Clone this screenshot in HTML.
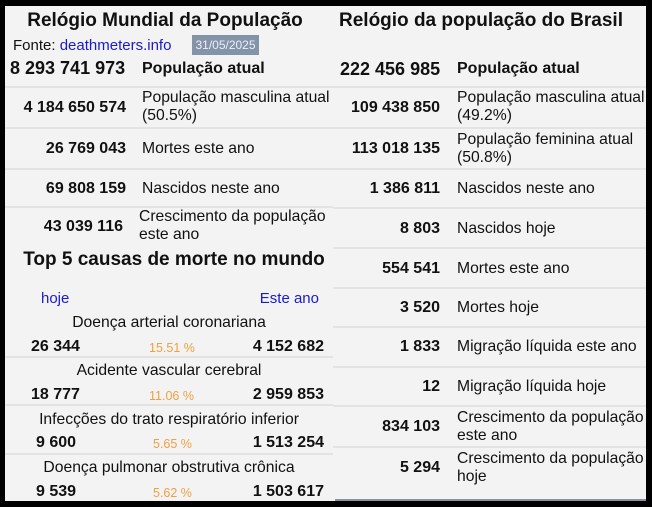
<!DOCTYPE html>
<html><head><meta charset="utf-8"><style>
*{margin:0;padding:0;box-sizing:border-box}
body{width:652px;height:507px;background:#000;position:relative;overflow:hidden;font-family:"Liberation Sans",Arial,sans-serif;color:#111}
.p{position:absolute;background:#f3f3f3}
.t{position:absolute;white-space:nowrap;font-size:15.7px;line-height:18px}
.b{font-weight:bold;font-size:16px}
.r{text-align:right}
.c{text-align:center}
.s{position:absolute;height:2px;background:#e3e3e3}
.bl{color:#1a1acc}
.or{color:#f0a040;font-size:12.5px}
</style></head><body>
<div class="p" style="left:5px;top:6px;width:328px;height:495px"></div>
<div class="p" style="left:333px;top:6px;width:313px;height:495px"></div>
<div style="position:absolute;left:335px;top:499px;width:311px;height:2px;background:#8a93a0"></div>

<!-- left -->
<div class="t b c" style="left:0px;top:11px;width:330px;font-size:19px;line-height:20px">Relógio Mundial da População</div>
<div class="t" style="left:13px;top:37px;font-size:15px">Fonte: <span class="bl">deathmeters.info</span></div>
<div style="position:absolute;left:192px;top:35px;width:67px;height:20px;background:#8393a8;color:#eef;font-size:12px;line-height:20px;text-align:center">31/05/2025</div>
<div class="t b" style="left:10px;top:58px;font-size:18px;line-height:20px">8 293 741 973</div>
<div class="t b" style="left:142px;top:60px">População atual</div>
<div class="s" style="left:5px;top:86px;width:328px"></div>
<div class="t b r" style="left:5px;top:99px;width:121px">4 184 650 574</div>
<div class="t" style="left:142px;top:89px;line-height:18px">População masculina atual<br>(50.5%)</div>
<div class="s" style="left:5px;top:127px;width:328px"></div>
<div class="t b r" style="left:5px;top:140px;width:121px">26 769 043</div>
<div class="t" style="left:142px;top:140px">Mortes este ano</div>
<div class="s" style="left:5px;top:168px;width:328px"></div>
<div class="t b r" style="left:5px;top:180px;width:121px">69 808 159</div>
<div class="t" style="left:142px;top:180px">Nascidos neste ano</div>
<div class="s" style="left:5px;top:206px;width:328px"></div>
<div class="t b r" style="left:5px;top:218px;width:118px">43 039 116</div>
<div class="t" style="left:139px;top:208px;line-height:18px">Crescimento da população<br>este ano</div>
<div class="t b c" style="left:5px;top:250px;width:338px;font-size:19px;line-height:20px">Top 5 causas de morte no mundo</div>
<div class="t bl" style="left:41px;top:290px;font-size:15px">hoje</div>
<div class="t bl r" style="left:200px;top:290px;width:119px;font-size:15px">Este ano</div>
<div class="t c" style="left:5px;top:314px;width:328px">Doença arterial coronariana</div>
<div class="t b" style="left:31px;top:338px">26 344</div>
<div class="t or" style="left:149px;top:339px">15.51 %</div>
<div class="t b r" style="left:200px;top:338px;width:124px">4 152 682</div>
<div class="s" style="left:5px;top:356px;width:328px"></div>
<div class="t c" style="left:5px;top:362px;width:328px">Acidente vascular cerebral</div>
<div class="t b" style="left:31px;top:386px">18 777</div>
<div class="t or" style="left:149px;top:387px">11.06 %</div>
<div class="t b r" style="left:200px;top:386px;width:124px">2 959 853</div>
<div class="s" style="left:5px;top:404px;width:328px"></div>
<div class="t c" style="left:5px;top:411px;width:328px">Infecções do trato respiratório inferior</div>
<div class="t b" style="left:36px;top:434px">9 600</div>
<div class="t or" style="left:153px;top:435px">5.65 %</div>
<div class="t b r" style="left:200px;top:434px;width:124px">1 513 254</div>
<div class="s" style="left:5px;top:453px;width:328px"></div>
<div class="t c" style="left:5px;top:459px;width:328px">Doença pulmonar obstrutiva crônica</div>
<div class="t b" style="left:36px;top:483px">9 539</div>
<div class="t or" style="left:153px;top:484px">5.62 %</div>
<div class="t b r" style="left:200px;top:483px;width:124px">1 503 617</div>

<!-- right -->
<div class="t b" style="left:339px;top:11px;font-size:19px;line-height:20px">Relógio da população do Brasil</div>
<div class="t b" style="left:340px;top:59px;font-size:18px;line-height:20px">222 456 985</div>
<div class="t b" style="left:457px;top:60px">População atual</div>
<div class="s" style="left:333px;top:86px;width:313px"></div>
<div class="t b r" style="left:333px;top:99px;width:107px">109 438 850</div>
<div class="t" style="left:457px;top:89px">População masculina atual<br>(49.2%)</div>
<div class="s" style="left:333px;top:127px;width:313px"></div>
<div class="t b r" style="left:333px;top:140px;width:107px">113 018 135</div>
<div class="t" style="left:457px;top:131px">População feminina atual<br>(50.8%)</div>
<div class="s" style="left:333px;top:168px;width:313px"></div>
<div class="t b r" style="left:333px;top:180px;width:107px">1 386 811</div>
<div class="t" style="left:457px;top:180px">Nascidos neste ano</div>
<div class="s" style="left:333px;top:207px;width:313px"></div>
<div class="t b r" style="left:333px;top:220px;width:107px">8 803</div>
<div class="t" style="left:457px;top:220px">Nascidos hoje</div>
<div class="s" style="left:333px;top:247px;width:313px"></div>
<div class="t b r" style="left:333px;top:260px;width:107px">554 541</div>
<div class="t" style="left:457px;top:260px">Mortes este ano</div>
<div class="s" style="left:333px;top:287px;width:313px"></div>
<div class="t b r" style="left:333px;top:299px;width:107px">3 520</div>
<div class="t" style="left:457px;top:299px">Mortes hoje</div>
<div class="s" style="left:333px;top:326px;width:313px"></div>
<div class="t b r" style="left:333px;top:338px;width:107px">1 833</div>
<div class="t" style="left:457px;top:338px">Migração líquida este ano</div>
<div class="s" style="left:333px;top:366px;width:313px"></div>
<div class="t b r" style="left:333px;top:378px;width:107px">12</div>
<div class="t" style="left:457px;top:378px">Migração líquida hoje</div>
<div class="s" style="left:333px;top:405px;width:313px"></div>
<div class="t b r" style="left:333px;top:418px;width:107px">834 103</div>
<div class="t" style="left:457px;top:409px">Crescimento da população<br>este ano</div>
<div class="s" style="left:333px;top:446px;width:313px"></div>
<div class="t b r" style="left:333px;top:459px;width:107px">5 294</div>
<div class="t" style="left:457px;top:450px">Crescimento da população<br>hoje</div>
</body></html>
